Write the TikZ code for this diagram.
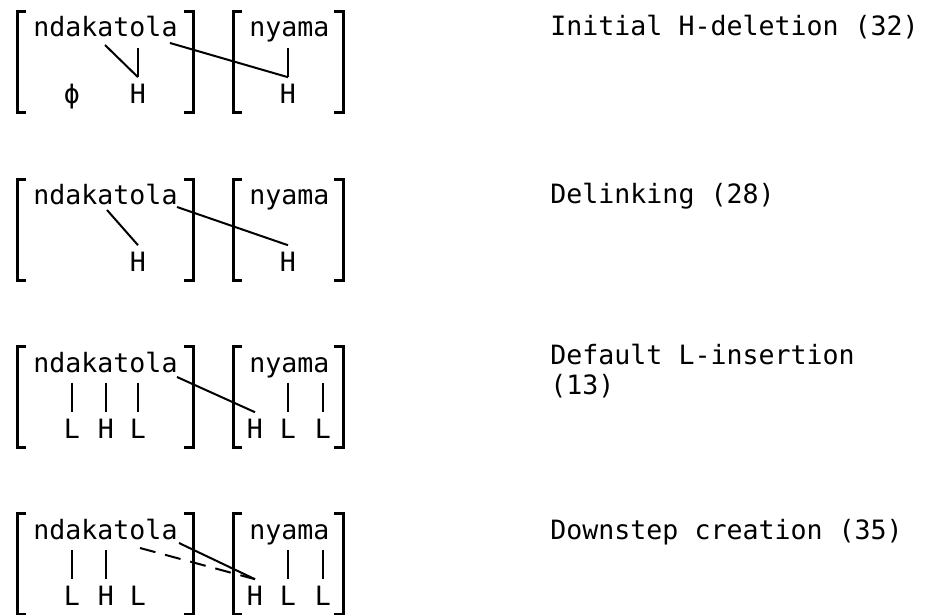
\documentclass[tikz,border=0pt]{standalone}
\usepackage{fontspec}
\newfontfamily\lgfont{DejaVu Sans Mono}
\usepackage{tikz}
\usetikzlibrary{positioning}

\begin{document}
\begin{tikzpicture}[x=0.5pt, y=-0.5pt,
      word/.style={anchor=base west, inner sep=0pt, font=\lgfont\fontsize{13.3}{15.5}\selectfont},
      tone/.style={anchor=base, inner xsep=0pt, inner ysep=3.5pt, font=\lgfont\fontsize{13.3}{15.5}\selectfont},
      lbl/.style={anchor=base west, align=left, inner sep=0pt, font=\lgfont\fontsize{13.3}{15.5}\selectfont},
      brk/.style={line width=1.5pt},
      lnk/.style={line width=1pt},
      dlnk/.style={lnk, dash pattern=on 8pt off 5pt}]
    \useasboundingbox (0,0) rectangle (934,615);
    % brackets round both words, same in every row
    \foreach \t in {12,180,347,514} {
      \draw[brk] (26,\t) -| (17,\t+101) -- (26,\t+101);
      \draw[brk] (184,\t) -| (193,\t+101) -- (184,\t+101);
      \draw[brk] (242,\t) -| (233,\t+101) -- (242,\t+101);
      \draw[brk] (334,\t) -| (343,\t+101) -- (334,\t+101);
    }
    % row 1
    \begin{scope}[shift={(0,12)}]
      \node[word] (nd1) at (33,25) {ndakatola}; \node[word] (ny1) at (249,25) {nyama};
      \node[tone] (phi1) at (72,92) {ϕ}; \node[tone] (h1) at (138,92) {H};
      \node[tone] (h1n) at (288,92) {H};
      \coordinate (r1a) at (105,33); \coordinate (r1o) at (138,36);
      \coordinate (r1e) at (170,31); \coordinate (r1m) at (288,36);
      \draw[lnk] (r1a) -- (h1.north); \draw[lnk] (r1o) -- (h1.north);
      \draw[lnk] (r1e) -- (h1n.north); \draw[lnk] (r1m) -- (h1n.north);
    \end{scope}
    % row 2
    \begin{scope}[shift={(0,180)}]
      \node[word] (nd2) at (33,25) {ndakatola}; \node[word] (ny2) at (249,25) {nyama};
      \node[tone] (h2) at (138,92) {H}; \node[tone] (h2n) at (288,92) {H};
      \coordinate (r2a) at (107,30); \coordinate (r2e) at (177,27);
      \draw[lnk] (r2a) -- (h2.north); \draw[lnk] (r2e) -- (h2n.north);
    \end{scope}
    % row 3
    \begin{scope}[shift={(0,347)}]
      \node[word] (nd3) at (33,25) {ndakatola}; \node[word] (ny3) at (249,25) {nyama};
      \node[tone] (l3a) at (72,92) {L}; \node[tone] (h3) at (106,92) {H};
      \node[tone] (l3b) at (138,92) {L};
      \node[tone] (h3n) at (255,92) {H}; \node[tone] (l3c) at (288,92) {L};
      \node[tone] (l3d) at (323,92) {L};
      \coordinate (r3a) at (72,36); \coordinate (r3b) at (106,36); \coordinate (r3c) at (138,36);
      \coordinate (r3e) at (177,30); \coordinate (r3f) at (288,36); \coordinate (r3g) at (323,36);
      \draw[lnk] (r3a) -- (l3a.north); \draw[lnk] (r3b) -- (h3.north);
      \draw[lnk] (r3c) -- (l3b.north); \draw[lnk] (r3e) -- (h3n.north);
      \draw[lnk] (r3f) -- (l3c.north); \draw[lnk] (r3g) -- (l3d.north);
    \end{scope}
    % row 4
    \begin{scope}[shift={(0,514)}]
      \node[word] (nd4) at (33,25) {ndakatola}; \node[word] (ny4) at (249,25) {nyama};
      \node[tone] (l4a) at (72,92) {L}; \node[tone] (h4) at (106,92) {H};
      \node[tone] (l4b) at (138,92) {L};
      \node[tone] (h4n) at (255,92) {H}; \node[tone] (l4c) at (288,92) {L};
      \node[tone] (l4d) at (323,92) {L};
      \coordinate (r4a) at (72,36); \coordinate (r4b) at (106,36); \coordinate (r4o) at (140,34);
      \coordinate (r4e) at (179,29); \coordinate (r4f) at (288,36); \coordinate (r4g) at (323,36);
      \draw[lnk] (r4a) -- (l4a.north); \draw[lnk] (r4b) -- (h4.north);
      \draw[lnk] (r4e) -- (h4n.north); \draw[dlnk] (r4o) -- (h4n.north);
      \draw[lnk] (r4f) -- (l4c.north); \draw[lnk] (r4g) -- (l4d.north);
    \end{scope}
    % rule names
    \node[lbl] (t1) at (550,36) {Initial H-deletion (32)};
    \node[lbl] (t2) at (550,204) {Delinking (28)};
    \node[lbl] (t3) at (550,395) {Default L-insertion\\(13)};
    \node[lbl] (t4) at (550,540) {Downstep creation (35)};
  \end{tikzpicture}
\end{document}
